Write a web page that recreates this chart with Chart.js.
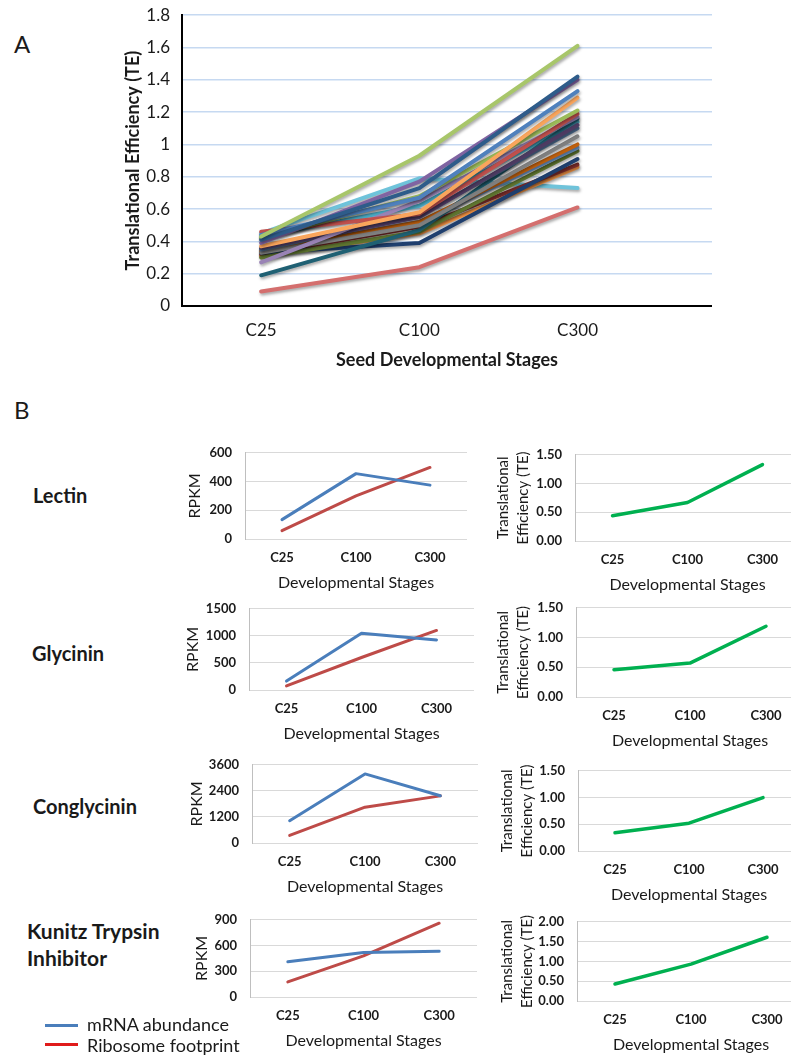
<!DOCTYPE html>
<html>
<head>
<meta charset="utf-8">
<script src="https://cdn.jsdelivr.net/npm/chart.js@4.4.0/dist/chart.umd.min.js"></script>
<style>
  html, body { margin: 0; padding: 0; background: #fff; }
  body { width: 791px; height: 1055px; position: relative; overflow: hidden;
         font-family: Lato, "Open Sans", sans-serif; color: #1a1a1a; }
  .box { position: absolute; }
  .lbl { position: absolute; white-space: nowrap; }
  .key { position: absolute; width: 33px; height: 3px; }
</style>
</head>
<body>
<div class="lbl" style="left:14px;top:30px;font-size:24px;line-height:28px;">A</div>
<div class="lbl" style="left:14px;top:396px;font-size:24px;line-height:28px;">B</div>

<div class="box" style="left:120px;top:-7px;width:592px;height:378px;"><canvas id="teAll"></canvas></div>

<div class="lbl" style="left:33px;top:483px;font-size:20px;line-height:24px;font-weight:bold;">Lectin</div>
<div class="lbl" style="left:32px;top:641px;font-size:20px;line-height:24px;font-weight:bold;">Glycinin</div>
<div class="lbl" style="left:33px;top:794px;font-size:20px;line-height:24px;font-weight:bold;">Conglycinin</div>
<div class="lbl" style="left:27px;top:917px;font-size:21px;line-height:27px;font-weight:bold;">Kunitz Trypsin<br>Inhibitor</div>

<div class="box" style="left:180px;top:432px;width:287px;height:160px;"><canvas id="lectinRpkm"></canvas></div>
<div class="box" style="left:490px;top:434px;width:310px;height:160px;"><canvas id="lectinTe"></canvas></div>
<div class="box" style="left:180px;top:588px;width:294px;height:155px;"><canvas id="glycininRpkm"></canvas></div>
<div class="box" style="left:490px;top:587px;width:314px;height:163px;"><canvas id="glycininTe"></canvas></div>
<div class="box" style="left:180px;top:744px;width:298px;height:152px;"><canvas id="conglycininRpkm"></canvas></div>
<div class="box" style="left:490px;top:750px;width:310px;height:154px;"><canvas id="conglycininTe"></canvas></div>
<div class="box" style="left:180px;top:899px;width:297px;height:151px;"><canvas id="kunitzRpkm"></canvas></div>
<div class="box" style="left:490px;top:901px;width:315px;height:153px;"><canvas id="kunitzTe"></canvas></div>

<div class="key" style="left:45px;top:1024px;background:#4A7EBB;"></div>
<div class="lbl" style="left:87px;top:1012px;font-size:18px;line-height:24px;">mRNA abundance</div>
<div class="key" style="left:45px;top:1043px;background:#E01B1B;"></div>
<div class="lbl" style="left:87px;top:1033px;font-size:18px;line-height:24px;">Ribosome footprint</div>

<script>
var stages = ['C25', 'C100', 'C300'];

// panel A: translational efficiency of each gene at C25, C100, C300
var teGenes = [
    [0.43, 0.93, 1.61],
    [0.41, 0.73, 1.42],
    [0.39, 0.77, 1.40],
    [0.44, 0.67, 1.33],
    [0.37, 0.58, 1.29],
    [0.42, 0.68, 1.21],
    [0.46, 0.57, 1.19],
    [0.27, 0.65, 1.17],
    [0.36, 0.55, 1.12],
    [0.35, 0.56, 1.10],
    [0.33, 0.50, 1.05],
    [0.19, 0.47, 1.16],
    [0.43, 0.62, 1.14],
    [0.34, 0.52, 1.00],
    [0.35, 0.52, 0.98],
    [0.30, 0.46, 0.96],
    [0.33, 0.39, 0.91],
    [0.32, 0.49, 0.875],
    [0.31, 0.45, 0.86],
    [0.45, 0.79, 0.73],
    [0.09, 0.24, 0.61]
];
var teColors = [
    '#A8C66A', '#2E5C8A', '#8064A2', '#4F81BD', '#F9A55C', '#9BBB59', '#C0504D',
    '#9983B5', '#4D3B62', '#4D6B8F', '#7F7F7F', '#1F6073', '#4BACC6', '#C0600E',
    '#6D97CB', '#5F7530', '#1F3F6E', '#7B2C2A', '#F79646', '#6FC3DA', '#D46F6E'
];

// panel B: RPKM and TE per gene
var lectinMrna = [135, 455, 375];
var lectinRibo = [58, 300, 498];
var lectinTE = [0.44, 0.67, 1.33];
var glycininMrna = [165, 1050, 925];
var glycininRibo = [75, 600, 1100];
var glycininTE = [0.46, 0.57, 1.19];
var conglycininMrna = [1025, 3180, 2175];
var conglycininRibo = [350, 1650, 2170];
var conglycininTE = [0.34, 0.52, 1.00];
var kunitzMrna = [410, 520, 532];
var kunitzRibo = [176, 480, 860];
var kunitzTE = [0.43, 0.93, 1.61];

Chart.defaults.font.family = 'Lato, "Open Sans", sans-serif';
Chart.defaults.color = '#1a1a1a';
Chart.defaults.animation = false;

var lineShadow = {
    id: 'lineShadow',
    beforeDatasetDraw: function (chart) {
        var ctx = chart.ctx;
        ctx.save();
        ctx.shadowColor = 'rgba(0,0,0,0.35)';
        ctx.shadowBlur = 3;
        ctx.shadowOffsetX = 1;
        ctx.shadowOffsetY = 2;
    },
    afterDatasetDraw: function (chart) {
        chart.ctx.restore();
    }
};

new Chart(document.getElementById('teAll'), {
    type: 'line',
    data: {
        datasets: teGenes.map(function (vals, i) {
            return {
                data: vals.map(function (v, j) { return {x: j, y: v}; }),
                borderColor: teColors[i],
                borderWidth: 4
            };
        })
    },
    options: {
        responsive: true,
        maintainAspectRatio: false,
        layout: {padding: 0},
        plugins: {legend: {display: false}, tooltip: {enabled: false}},
        elements: {point: {radius: 0}, line: {tension: 0, borderCapStyle: 'round', borderJoinStyle: 'round'}},
        scales: {
            x: {
                type: 'linear',
                min: -0.5,
                max: 2.85,
                afterBuildTicks: function (axis) {
                    axis.ticks = stages.map(function (s, i) { return {value: i}; });
                },
                grid: {display: false, drawTicks: false},
                border: {display: true, color: '#000', width: 2},
                ticks: {padding: 14, font: {size: 17}, callback: function (v) { return stages[v]; }},
                title: {display: true, text: 'Seed Developmental Stages', font: {size: 18, weight: 'bold'}, padding: 0},
                afterFit: function (scale) { scale.height = 65; }
            },
            y: {
                min: 0,
                max: 1.8,
                grid: {color: '#C6D9F1', lineWidth: 1.5, drawTicks: false},
                border: {display: true, color: '#000', width: 2},
                ticks: {stepSize: 0.2, padding: 12, font: {size: 17},
                        callback: function (v) { return String(Number(v.toFixed(1))); }},
                title: {display: true, text: 'Translational Efficiency (TE)', font: {size: 18, weight: 'bold'}, padding: {top: 2, bottom: 0}},
                afterFit: function (scale) { scale.width = 62; }
            }
        }
    },
    plugins: [lineShadow]
});

function smallChart(canvasId, yWidth, yTitle, yTitlePad, yMax, yStep, decimals, datasets) {
    var twoLine = Array.isArray(yTitle);
    return new Chart(document.getElementById(canvasId), {
        type: 'line',
        data: {labels: stages, datasets: datasets},
        options: {
            responsive: true,
            maintainAspectRatio: false,
            layout: {padding: 0},
            plugins: {legend: {display: false}, tooltip: {enabled: false}},
            elements: {point: {radius: 0}, line: {tension: 0, borderCapStyle: 'round', borderJoinStyle: 'round'}},
            scales: {
                x: {
                    offset: true,
                    grid: {display: false, drawTicks: false},
                    border: {display: false},
                    ticks: {padding: 11, font: {size: 13, weight: 'bold'}},
                    title: {display: true, text: 'Developmental Stages', font: {size: 16}, padding: 0},
                    afterFit: function (scale) { scale.height = 53; }
                },
                y: {
                    min: 0,
                    max: yMax,
                    grid: {color: '#d9d9d9', drawTicks: false},
                    border: {display: true, color: '#bfbfbf'},
                    ticks: {stepSize: yStep, autoSkip: false, padding: 13, font: {size: 13, weight: 'bold'},
                            callback: function (v) { return v.toFixed(decimals); }},
                    title: {display: true, text: yTitle,
                            font: twoLine ? {size: 15, lineHeight: 1.35} : {size: 16},
                            padding: {top: yTitlePad, bottom: 0}},
                    afterFit: function (scale) { scale.width = yWidth; }
                }
            }
        }
    });
}

function rpkmSets(mrna, ribo) {
    return [
        {data: mrna, borderColor: '#4A7EBB', borderWidth: 3},
        {data: ribo, borderColor: '#BE4B48', borderWidth: 3}
    ];
}
function teSet(te) {
    return [{data: te, borderColor: '#00B050', borderWidth: 3.5}];
}
var teTitle = ['Translational', 'Efficiency (TE)'];

smallChart('lectinRpkm', 65, 'RPKM', 5, 600, 200, 0, rpkmSets(lectinMrna, lectinRibo));
smallChart('lectinTe', 85, teTitle, 3, 1.5, 0.5, 2, teSet(lectinTE));
smallChart('glycininRpkm', 69, 'RPKM', 3, 1500, 500, 0, rpkmSets(glycininMrna, glycininRibo));
smallChart('glycininTe', 86, teTitle, 3, 1.5, 0.5, 2, teSet(glycininTE));
smallChart('conglycininRpkm', 72, 'RPKM', 7, 3600, 1200, 0, rpkmSets(conglycininMrna, conglycininRibo));
smallChart('conglycininTe', 88, teTitle, 7, 1.5, 0.5, 2, teSet(conglycininTE));
smallChart('kunitzRpkm', 70, 'RPKM', 12, 900, 300, 0, rpkmSets(kunitzMrna, kunitzRibo));
smallChart('kunitzTe', 87, teTitle, 7, 2.0, 0.5, 2, teSet(kunitzTE));
</script>
</body>
</html>
